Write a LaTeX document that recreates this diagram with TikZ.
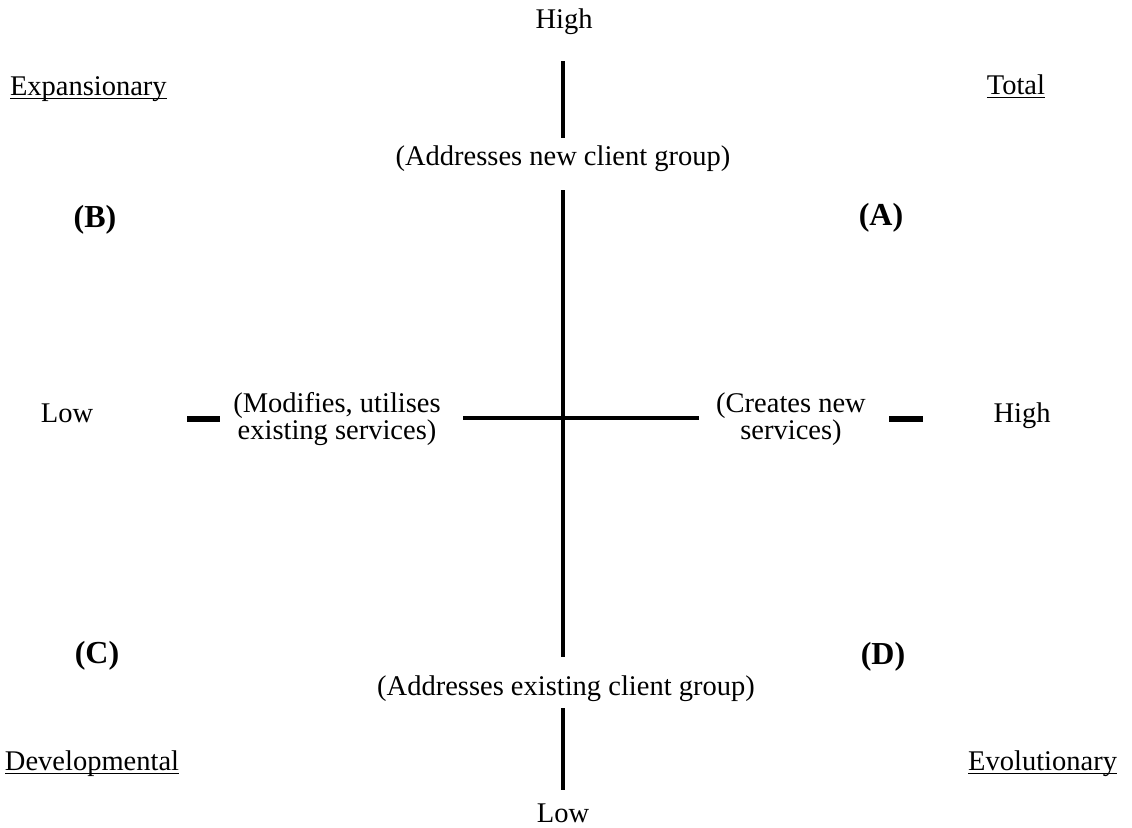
\documentclass[tikz,border=0pt]{standalone}
\usepackage{fontspec}
\setmainfont{Liberation Serif}
\begin{document}
\begin{tikzpicture}[x=1pt,y=-1pt,
  txt/.style={font=\fontsize{28.5}{27.5}\selectfont, inner sep=0pt, outer sep=0pt},
  bold/.style={txt, font=\fontsize{32}{32}\selectfont\bfseries},
  two/.style={txt, align=center},
  axis/.style={line width=4.5pt},
  tick/.style={line width=5.5pt},
  ul/.style={line width=1.5pt}]
\useasboundingbox[fill=white] (0,0) rectangle (1132,827);
% axis end labels
\node[txt, anchor=base] (hightop) at (564,28) {High};
\node[txt, anchor=base] (lowbot) at (563,822) {Low};
\node[txt, anchor=base] (lowleft) at (67,422) {Low};
\node[txt, anchor=base] (highright) at (1022,422) {High};
% axis descriptions
\node[txt, anchor=base] (newgrp) at (563,165) {(Addresses new client group)};
\node[txt, anchor=base] (oldgrp) at (566,695) {(Addresses existing client group)};
\node[two] (modif) at (337,419) {(Modifies, utilises\\existing services)};
\node[two] (creates) at (791,419) {(Creates new\\services)};
% quadrant letters
\node[bold, anchor=base] (qb) at (95,227) {(B)};
\node[bold, anchor=base] (qa) at (881,225) {(A)};
\node[bold, anchor=base] (qc) at (97,663) {(C)};
\node[bold, anchor=base] (qd) at (883,664) {(D)};
% corner names
\node[txt, anchor=base west] (expan) at (10,95) {Expansionary};
\node[txt, anchor=base east] (total) at (1045,94) {Total};
\node[txt, anchor=base west] (devel) at (5,770) {Developmental};
\node[txt, anchor=base east] (evol) at (1117,770) {Evolutionary};
\foreach \n in {expan,total,devel,evol}
  \draw[ul] ([yshift=-3.5pt]\n.base west) -- ([yshift=-3.5pt]\n.base east);
% axes
\coordinate (v1a) at (563,61);  \coordinate (v1b) at (563,138);
\coordinate (v2a) at (563,190); \coordinate (v2b) at (563,657);
\coordinate (v3a) at (563,708); \coordinate (v3b) at (563,790);
\coordinate (ha) at (463,418);  \coordinate (hb) at (699,418);
\coordinate (tla) at (187,419); \coordinate (tlb) at (220,419);
\coordinate (tra) at (889,419); \coordinate (trb) at (923,419);
\draw[axis] (v1a) -- (v1b);
\draw[axis] (v2a) -- (v2b);
\draw[axis] (v3a) -- (v3b);
\draw[axis] (ha) -- (hb);
\draw[tick] (tla) -- (tlb);
\draw[tick] (tra) -- (trb);
\end{tikzpicture}
\end{document}
